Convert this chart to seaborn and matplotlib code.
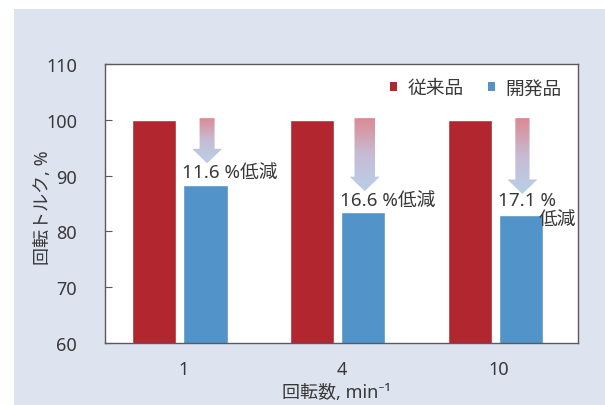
import numpy as np
import pandas as pd
import matplotlib
matplotlib.use("Agg")
import matplotlib.pyplot as plt
import seaborn as sns
from matplotlib.patches import Polygon, Rectangle, Patch
from matplotlib.colors import LinearSegmentedColormap

# ---- data ----
speeds = ["1", "4", "10"]                      # 回転数, min^-1
series = ["従来品", "開発品"]
conventional = [100.0, 100.0, 100.0]           # 従来品 torque, %
reduction = [11.6, 16.6, 17.1]                 # 低減率, %
developed = [round(100.0 - r, 1) for r in reduction]  # 開発品 torque, %

RED = "#b2262f"
BLUE = "#5293c9"
BG = "#dde4ef"
TXT = "#383838"
SPINE = "#5a5a5a"
FS = 13

df = pd.DataFrame({
    "rpm": speeds * 2,
    "torque": conventional + developed,
    "type": [series[0]] * 3 + [series[1]] * 3,
})

sns.set_style("white")
plt.rcParams["font.family"] = ["Noto Sans", "Noto Sans CJK JP", "DejaVu Sans"]

W, H = 605, 406
fig = plt.figure(figsize=(W / 100, H / 100), dpi=100, facecolor="white")
# light panel behind the chart
fig.patches.append(Rectangle((14 / W, 0), 1 - 14 / W, (H - 10) / H,
                             transform=fig.transFigure, facecolor=BG,
                             edgecolor="none", zorder=-10))

ax = fig.add_axes([105 / W, (H - 344) / H, (578 - 105) / W, (344 - 65) / H])
ax.set_facecolor("white")

sns.barplot(data=df, x="rpm", y="torque", hue="type", order=speeds,
            hue_order=series, palette=[RED, BLUE], width=0.65, gap=0.14,
            saturation=1, ax=ax, legend=False, zorder=2)

# bar groups sit slightly left of their category tick
bars = [p for p in ax.patches if isinstance(p, Rectangle)]
shift = -0.025
for b in bars:
    b.set_x(b.get_x() + shift)
dev_bars = bars[3:6]

ax.set_ylim(60, 110)
ax.set_xlim(-0.5, 2.5)
ax.set_yticks([60, 70, 80, 90, 100, 110])

for s in ax.spines.values():
    s.set_color(SPINE)
    s.set_linewidth(1.0)
ax.tick_params(axis="y", direction="in", length=5, color=SPINE,
               labelsize=FS, labelcolor=TXT, pad=20, left=True)
ax.tick_params(axis="x", length=0, labelsize=FS, labelcolor=TXT, pad=12)

ax.set_xlabel("回転数, min⁻¹", fontsize=FS, color=TXT)
ax.set_ylabel("回転トルク, %", fontsize=FS, color=TXT)
ax.yaxis.set_label_coords(-0.112, 0.49)
ax.xaxis.set_label_coords(0.49, -0.145)

# gradient arrows from the 従来品 level down towards each 開発品 bar
cmap = LinearSegmentedColormap.from_list("fade", ["#b9cfe8", "#c6bcd4", "#dc8992"])
grad = np.linspace(0, 1, 256).reshape(-1, 1)
shaft_w = [0.095, 0.13, 0.09]
head_w = 0.19
head_len = 2.6
for i, bar in enumerate(dev_bars):
    xc = bar.get_x() + bar.get_width() / 2 + 0.01
    y_top = conventional[i] + 0.3
    y_tip = developed[i] + 3.8
    y_head = y_tip + head_len
    sw = shaft_w[i]
    verts = [(xc - sw / 2, y_top), (xc + sw / 2, y_top), (xc + sw / 2, y_head),
             (xc + head_w / 2, y_head), (xc, y_tip), (xc - head_w / 2, y_head),
             (xc - sw / 2, y_head)]
    poly = Polygon(verts, closed=True, facecolor="none", edgecolor="none")
    ax.add_patch(poly)
    im = ax.imshow(grad, extent=(xc - head_w / 2, xc + head_w / 2, y_tip, y_top),
                   origin="lower", aspect="auto", cmap=cmap, zorder=3)
    im.set_clip_path(poly)

# reduction labels
LFS = 13.5
for i, bar in enumerate(dev_bars):
    x0 = bar.get_x() - 0.008
    if i < 2:
        ax.text(x0, developed[i] + 2.2, f"{reduction[i]} %低減", fontsize=LFS,
                color=TXT, ha="left", va="center", zorder=4)
    else:
        ax.text(x0, developed[i] + 2.8, f"{reduction[i]} %", fontsize=LFS,
                color=TXT, ha="left", va="center", zorder=4)
        ax.text(x0 + 0.26, developed[i] - 0.7, "低減", fontsize=LFS,
                color=TXT, ha="left", va="center", zorder=4)

ax.set_xlim(-0.5, 2.5)
ax.set_ylim(60, 110)

handles = [Patch(facecolor=RED, edgecolor="none"),
           Patch(facecolor=BLUE, edgecolor="none")]
ax.legend(handles, series, ncol=2, frameon=False, loc="upper right",
          bbox_to_anchor=(0.99, 0.985), fontsize=FS + 0.5, labelcolor=TXT,
          handlelength=0.4, handleheight=0.4, handletextpad=0.55,
          columnspacing=1.3, borderaxespad=0.2)

fig.savefig("out.png", dpi=100, facecolor="white")
